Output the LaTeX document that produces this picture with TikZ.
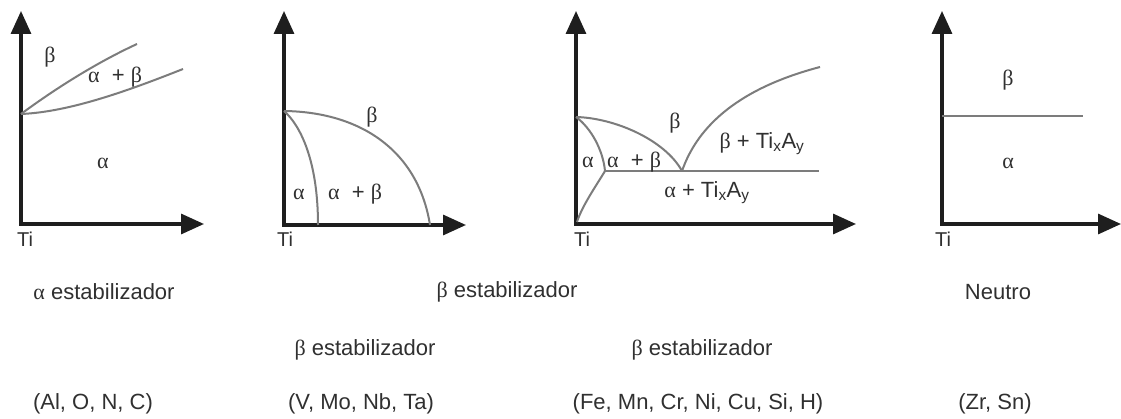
\documentclass[tikz,border=0pt]{standalone}
\usepackage{fontspec}
\setmainfont{Liberation Sans}
\newfontfamily\grkfont{Liberation Serif}
\newcommand{\galpha}{{\grkfont α}}
\newcommand{\gbeta}{{\grkfont β}}
\usetikzlibrary{arrows.meta}
\definecolor{axcol}{HTML}{1E1E1E}
\definecolor{curvecol}{HTML}{7C7C7C}
\definecolor{txtcol}{HTML}{303030}
\begin{document}
\begin{tikzpicture}[x=1pt,y=-1pt,
  axis/.style={line width=3.2pt, draw=axcol, line join=miter,
    {Triangle[length=23pt,width=20pt]}-{Triangle[length=23pt,width=20pt]}},
  phase/.style={line width=2pt, draw=curvecol},
  lbl/.style={text=txtcol, inner sep=0pt, font=\fontsize{22}{26}\selectfont},
  captext/.style={text=txtcol, inner sep=0pt, font=\fontsize{22}{26}\selectfont},
  tilbl/.style={text=txtcol, inner sep=0pt, font=\fontsize{20}{23}\selectfont}]
\useasboundingbox (0,0) rectangle (1121,419);
\fill[white] (0,0) rectangle (1121,419);

% ---------- Panel 1: alpha stabilizer ----------
\coordinate (O1) at (21,224);
\coordinate (Y1) at (21,11);
\coordinate (X1) at (204,224);
\coordinate (P1) at (21,114);
\coordinate (A1) at (137,44);
\coordinate (B1) at (183,69);
\draw[axis] (Y1) -- (O1) -- (X1);
\draw[phase] (P1) .. controls (40,100) and (85,68) .. (A1);
\draw[phase] (P1) .. controls (70,112) and (130,90) .. (B1);
\node[lbl] (b1) at (50,57) {\gbeta};
\node[lbl] (ab1) at (115,77) {\galpha\ \ + \gbeta};
\node[lbl] (a1) at (103,163) {\galpha};
\node[tilbl] (ti1) at (25,239) {Ti};

% ---------- Panel 2: beta isomorphous ----------
\coordinate (O2) at (284,225);
\coordinate (Y2) at (284,11);
\coordinate (X2) at (466,225);
\coordinate (P2) at (284,111);
\coordinate (E2) at (318,225);
\coordinate (F2) at (430,225);
\draw[axis] (Y2) -- (O2) -- (X2);
\draw[phase] (P2) .. controls (360,112) and (418,150) .. (F2);
\draw[phase] (P2) .. controls (300,125) and (318,160) .. (E2);
\node[lbl] (b2) at (372,117) {\gbeta};
\node[lbl] (a2) at (299,194) {\galpha};
\node[lbl] (ab2) at (355,194) {\galpha\ \ + \gbeta};
\node[tilbl] (ti2) at (285,239) {Ti};

% ---------- Panel 3: beta eutectoid ----------
\coordinate (O3) at (576,224);
\coordinate (Y3) at (576,11);
\coordinate (X3) at (856,224);
\coordinate (P3) at (576,117);
\coordinate (J3) at (605,171);
\coordinate (E3) at (682,171);
\coordinate (H3) at (819,171);
\coordinate (R3) at (820,67);
\coordinate (Q3) at (577,222);
\draw[axis] (Y3) -- (O3) -- (X3);
\draw[phase] (P3) .. controls (615,118) and (665,140) .. (E3);
\draw[phase] (P3) .. controls (591,128) and (603,150) .. (J3);
\draw[phase] (J3) .. controls (596,186) and (582,206) .. (Q3);
\draw[phase] (J3) -- (H3);
\draw[phase] (E3) .. controls (698,125) and (740,88) .. (R3);
\node[lbl] (b3) at (675,123) {\gbeta};
\node[lbl] (bt3) at (762,144) {\gbeta{} + Ti\textsubscript{x}A\textsubscript{y}};
\node[lbl] (a3) at (588,162) {\galpha};
\node[lbl] (ab3) at (634,162) {\galpha\ \ + \gbeta};
\node[lbl] (at3) at (707,193) {\galpha{} + Ti\textsubscript{x}A\textsubscript{y}};
\node[tilbl] (ti3) at (582,239) {Ti};

% ---------- Panel 4: neutral ----------
\coordinate (O4) at (942,224);
\coordinate (Y4) at (942,11);
\coordinate (X4) at (1121,224);
\coordinate (P4) at (942,116);
\coordinate (L4) at (1083,116);
\draw[axis] (Y4) -- (O4) -- (X4);
\draw[phase] (P4) -- (L4);
\node[lbl] (b4) at (1008,80) {\gbeta};
\node[lbl] (a4) at (1008,163) {\galpha};
\node[tilbl] (ti4) at (943,239) {Ti};

% ---------- Captions ----------
\node[captext] (c1) at (104,292) {\galpha{} estabilizador};
\node[captext] (c2) at (507,292) {\gbeta{} estabilizador};
\node[captext] (c3) at (998,292) {Neutro};
\node[captext] (c4) at (365,350) {\gbeta{} estabilizador};
\node[captext] (c5) at (702,350) {\gbeta{} estabilizador};
\node[captext] (e1) at (93,404) {(Al, O, N, C)};
\node[captext] (e2) at (361,404) {(V, Mo, Nb, Ta)};
\node[captext] (e3) at (698,404) {(Fe, Mn, Cr, Ni, Cu, Si, H)};
\node[captext] (e4) at (995,404) {(Zr, Sn)};
\end{tikzpicture}
\end{document}
